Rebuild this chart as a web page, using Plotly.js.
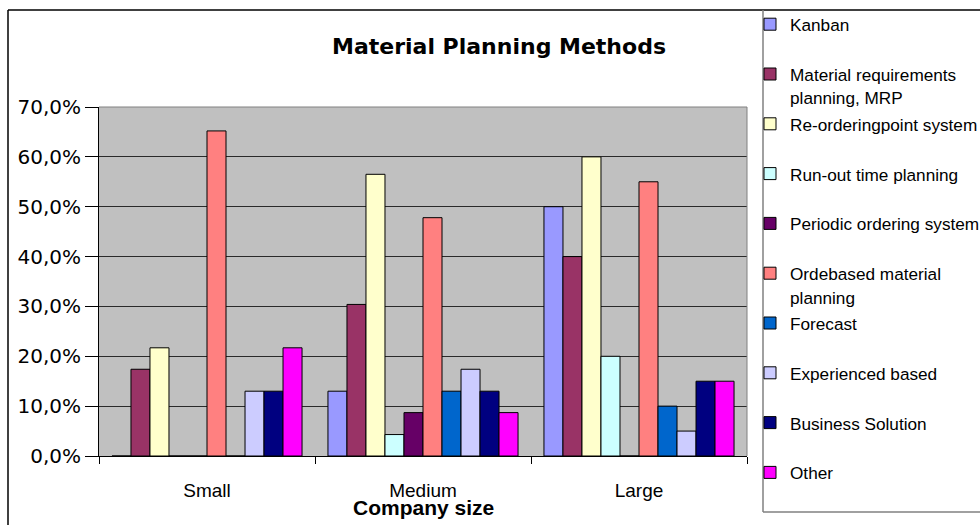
<!DOCTYPE html>
<html>
<head>
<meta charset="utf-8">
<script src="https://cdn.plot.ly/plotly-3.0.1.min.js"></script>
<style>
  html, body { margin: 0; padding: 0; background: #ffffff; }
  #chart { width: 980px; height: 525px; }
</style>
</head>
<body>
<div id="chart"></div>
<script>
// Company size groups
const categories = ['Small', 'Medium', 'Large'];

// Share of companies using each planning method, per size group
const kanban      = [0.000, 0.130, 0.500];
const mrp         = [0.174, 0.304, 0.400];
const reorder     = [0.217, 0.565, 0.600];
const runout      = [0.000, 0.043, 0.200];
const periodic    = [0.000, 0.087, 0.000];
const ordebased   = [0.652, 0.478, 0.550];
const forecast    = [0.000, 0.130, 0.100];
const experienced = [0.130, 0.174, 0.050];
const business    = [0.130, 0.130, 0.150];
const other       = [0.217, 0.087, 0.150];

// Legend labels (a <br> marks a wrapped label)
const methodNames = [
  'Kanban',
  'Material requirements<br>planning, MRP',
  'Re-orderingpoint system',
  'Run-out time planning',
  'Periodic ordering system',
  'Ordebased material<br>planning',
  'Forecast',
  'Experienced based',
  'Business Solution',
  'Other'
];
const methodValues = [kanban, mrp, reorder, runout, periodic, ordebased, forecast, experienced, business, other];
const methodColors = ['#9999FF', '#993366', '#FFFFCC', '#CCFFFF', '#660066',
                      '#FF8080', '#0066CC', '#CCCCFF', '#000080', '#FF00FF'];

const W = 980, H = 525;
const M = { l: 99, r: 233, t: 107, b: 69 };
const PW = W - M.l - M.r, PH = H - M.t - M.b;
// pixel -> paper helpers for the frame lines
const px = x => (x - M.l) / PW;
const py = y => (H - M.b - y) / PH;

const SANS = 'Liberation Sans, Arial, sans-serif';
const WIDE = 'DejaVu Sans, Verdana, sans-serif';

// Legend entries: the legend font (18px) sets the row pitch, the label
// itself is drawn a touch smaller; single-line labels get an empty second
// line so every entry has the same height.
const legendLabel = n => {
  const lines = n.split('<br>');
  if (lines.length < 2) lines.push('\u00a0');
  return lines.map(l => '<span style="font-size:17.2px">' + l + '</span>').join('<br>');
};

const traces = methodNames.map((name, i) => ({
  type: 'bar',
  name: legendLabel(name),
  x: categories,
  y: methodValues[i],
  marker: { color: methodColors[i], line: { color: '#000000', width: 1 } },
  hovertemplate: '%{x}: %{y:.1%}<extra></extra>'
}));

const layout = {
  width: W, height: H,
  margin: { l: M.l, r: M.r, t: M.t, b: M.b, autoexpand: false },
  paper_bgcolor: '#ffffff',
  plot_bgcolor: '#C0C0C0',
  separators: ',.',
  barmode: 'group',
  bargap: 0.12,
  bargroupgap: 0,
  font: { family: SANS, color: '#000000', size: 18 },
  title: {
    text: '<b>Material Planning Methods</b>',
    font: { family: WIDE, size: 22, color: '#000000' },
    xref: 'container', yref: 'container',
    x: 499 / W, xanchor: 'center',
    y: 1 - 46 / H, yanchor: 'middle'
  },
  xaxis: {
    type: 'category',
    tickson: 'boundaries',
    ticks: 'outside', ticklen: 7, tickcolor: '#000000',
    showline: true, linecolor: '#000000', linewidth: 1,
    showgrid: false,
    tickfont: { family: SANS, size: 19, color: '#000000' },
    ticklabelstandoff: 17
  },
  yaxis: {
    range: [0, 0.7],
    dtick: 0.1,
    tickformat: '.1%',
    ticks: 'outside', ticklen: 13, tickcolor: '#000000',
    showline: true, linecolor: '#000000', linewidth: 1,
    showgrid: true, gridcolor: '#2a2a2a', gridwidth: 1,
    zeroline: false,
    tickfont: { family: WIDE, size: 20, color: '#000000' }
  },
  // x axis title, set close under the tick labels
  annotations: [{
    text: '<b>Company size</b>',
    xref: 'paper', yref: 'paper',
    x: 0.5, xanchor: 'center',
    y: py(507), yanchor: 'middle',
    showarrow: false,
    font: { family: SANS, size: 21, color: '#000000' }
  }],
  legend: {
    x: px(750), xanchor: 'left',
    y: py(6), yanchor: 'top',
    maxheight: 520,
    bgcolor: 'rgba(0,0,0,0)',
    borderwidth: 0,
    valign: 'top',
    tracegroupgap: 0,
    font: { family: SANS, size: 18, color: '#000000' }
  },
  showlegend: true,
  shapes: [
    // plot area top and right edges
    { type: 'line', xref: 'paper', yref: 'paper', x0: 0, x1: 1, y0: 1, y1: 1,
      line: { color: '#808080', width: 1 } },
    { type: 'line', xref: 'paper', yref: 'paper', x0: 1, x1: 1, y0: 0, y1: 1,
      line: { color: '#808080', width: 1 } },
    // outer chart frame
    { type: 'line', xref: 'paper', yref: 'paper', x0: px(8), x1: px(W + 5), y0: py(10), y1: py(10),
      line: { color: '#000000', width: 1.5 } },
    { type: 'line', xref: 'paper', yref: 'paper', x0: px(8), x1: px(8), y0: py(10), y1: py(H + 5),
      line: { color: '#000000', width: 1.5 } },
    // legend box
    { type: 'line', xref: 'paper', yref: 'paper', x0: px(763), x1: px(763), y0: py(10), y1: py(512),
      line: { color: '#808080', width: 1.5 } },
    { type: 'line', xref: 'paper', yref: 'paper', x0: px(763), x1: px(W + 5), y0: py(512), y1: py(512),
      line: { color: '#808080', width: 1.5 } }
  ]
};

Plotly.newPlot('chart', traces, layout, { displayModeBar: false, staticPlot: true });
</script>
</body>
</html>
